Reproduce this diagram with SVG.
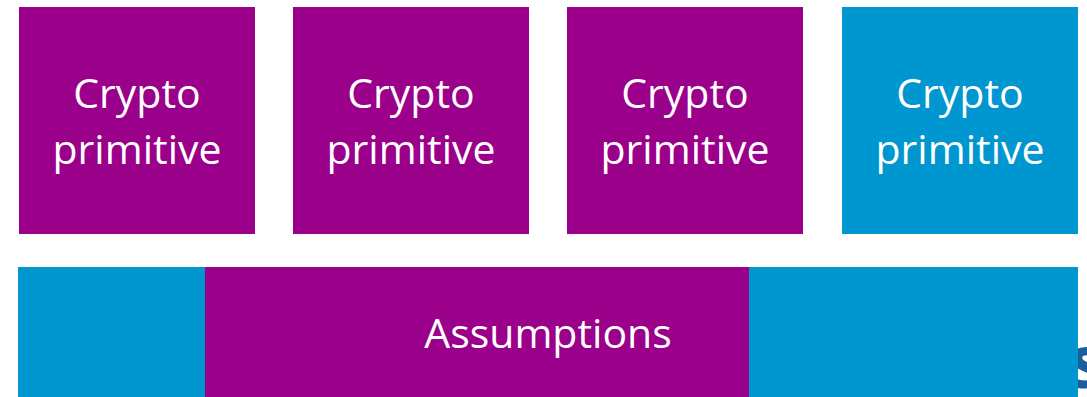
<svg xmlns="http://www.w3.org/2000/svg" width="1087" height="397" viewBox="0 0 1087 397">
  <style>
    .purple { fill: #9b008b; }
    .blue { fill: #0096d0; }
    .lbl { fill: #ffffff; font-family: "Open Sans", "Liberation Sans", sans-serif; font-size: 41px; text-anchor: middle; }
    .frag { fill: #1b5e9c; font-family: "Open Sans", "Liberation Sans", sans-serif; font-size: 74px; font-weight: bold; }
  </style>
  <rect width="1087" height="397" fill="#ffffff"/>
  <text class="frag" x="1068" y="388">s</text>
  <g id="node-crypto-1">
    <rect class="purple" x="19" y="7" width="236" height="227"/>
    <text class="lbl" x="137" y="108">Crypto</text>
    <text class="lbl" x="137" y="164">primitive</text>
  </g>
  <g id="node-crypto-2">
    <rect class="purple" x="293" y="7" width="236" height="227"/>
    <text class="lbl" x="411" y="108">Crypto</text>
    <text class="lbl" x="411" y="164">primitive</text>
  </g>
  <g id="node-crypto-3">
    <rect class="purple" x="567" y="7" width="236" height="227"/>
    <text class="lbl" x="685" y="108">Crypto</text>
    <text class="lbl" x="685" y="164">primitive</text>
  </g>
  <g id="node-crypto-4">
    <rect class="blue" x="842" y="7" width="236" height="227"/>
    <text class="lbl" x="960" y="108">Crypto</text>
    <text class="lbl" x="960" y="164">primitive</text>
  </g>
  <g id="node-assumptions">
    <rect class="blue" x="18" y="267" width="1060" height="130"/>
    <rect class="purple" x="205" y="267" width="544" height="130"/>
    <text class="lbl" x="548" y="348">Assumptions</text>
  </g>
  <g id="connectors"></g>
</svg>
